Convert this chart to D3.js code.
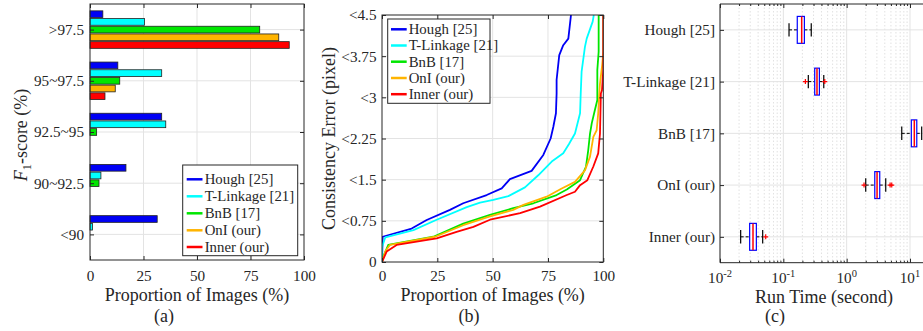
<!DOCTYPE html>
<html><head><meta charset="utf-8">
<script src="https://cdn.jsdelivr.net/npm/d3@7"></script>
<style>
body{margin:0;background:#fff}
text{font-family:"Liberation Serif","Times New Roman",serif;fill:#262626}
</style>
</head><body>
<svg id="chart" width="923" height="331"></svg>
<script>
// ---------------- DATA ----------------
const seriesNames = ["Hough [25]", "T-Linkage [21]", "BnB [17]", "OnI (our)", "Inner (our)"];
const seriesColors = ["#0000f5", "#00ffff", "#00e600", "#ffb400", "#ff0000"];

// (a) F1-score distribution
const f1Categories = [">97.5", "95~97.5", "92.5~95", "90~92.5", "<90"];
const f1Hough    = [6.0, 13.0, 33.5, 16.8, 31.4];
const f1TLinkage = [25.5, 33.5, 35.4, 5.1, 1.2];
const f1BnB      = [79.3, 13.9, 3.1, 4.2, 0];
const f1OnI      = [88.2, 11.8, 0, 0, 0];
const f1Inner    = [93.1, 7.0, 0, 0, 0];
const proportionTicks = [0, 25, 50, 75, 100];

// (b) consistency error curves (proportion of images vs error)
const errorTicks = [0, 0.75, 1.5, 2.25, 3, 3.75, 4.5];
const errorTickLabels = ["0", "<0.75", "<1.5", "<2.25", "<3", "<3.75", "<4.5"];
const houghProp = [0, 0.3, 13.4, 20.2, 30.7, 36.7, 47.3, 54.1, 57.8, 67.6, 72.9, 76.2, 77.4, 78.6, 78.9, 78.9, 80.1, 81.9, 84.2, 85.4];
const houghErr  = [0, 0.46, 0.61, 0.765, 0.95, 1.07, 1.22, 1.34, 1.51, 1.66, 1.95, 2.25, 2.46, 2.71, 3.07, 3.32, 3.77, 3.95, 4.07, 4.5];
const tlinkProp = [0, 0, 1.5, 14.2, 24.7, 38.3, 44.3, 50.3, 57.1, 64.6, 70.6, 76.7, 81.9, 84.5, 87.2, 89.5, 89.8, 90.2, 91.7, 92.5, 95.2, 95.7];
const tlinkErr  = [0, 0.27, 0.45, 0.58, 0.77, 1.0, 1.08, 1.13, 1.2, 1.36, 1.58, 1.83, 1.98, 2.15, 2.34, 2.71, 3.07, 3.47, 3.92, 4.07, 4.38, 4.5];
const bnbProp = [0, 0.6, 2.8, 23.2, 36.7, 48.8, 59.3, 68.4, 78.9, 83.5, 89.5, 92.2, 93.2, 94.0, 94.8, 96.2, 97.3, 97.3, 97.3, 97.9, 97.9];
const bnbErr  = [0, 0.1, 0.31, 0.46, 0.70, 0.86, 0.98, 1.07, 1.22, 1.32, 1.49, 1.74, 2.04, 2.34, 2.53, 2.77, 2.95, 3.25, 3.5, 3.83, 4.5];
const oniProp = [0, 1.6, 3.6, 24.0, 36.7, 48.8, 59.3, 63.9, 74.4, 81.2, 87.2, 91.7, 94.0, 95.5, 97.0, 97.7, 98.2, 98.5, 99.5, 100, 100];
const oniErr  = [0, 0.2, 0.31, 0.46, 0.67, 0.83, 0.95, 1.04, 1.19, 1.34, 1.46, 1.67, 1.92, 2.28, 2.40, 2.71, 3.07, 3.25, 3.59, 3.83, 4.5];
const innerProp = [0, 2.1, 6.6, 24.7, 33.7, 41.3, 48.8, 62.4, 71.4, 83.5, 87.2, 89.5, 92.8, 95.5, 97.7, 98.5, 98.9, 99.4, 100, 100];
const innerErr  = [0, 0.19, 0.31, 0.43, 0.55, 0.64, 0.77, 0.89, 1.01, 1.22, 1.28, 1.40, 1.49, 1.74, 1.98, 2.34, 3.07, 3.13, 3.5, 4.5];

// (c) run time box plots (seconds)
const rtWhiskerLo = [0.123, 0.248, 7.41, 2.0, 0.0212];
const rtQ1        = [0.166, 0.313, 10.5, 2.78, 0.0294];
const rtMedian    = [0.195, 0.340, 11.7, 3.02, 0.0332];
const rtQ3        = [0.215, 0.371, 12.8, 3.33, 0.0375];
const rtWhiskerHi = [0.276, 0.435, 15.3, 4.14, 0.0472];
const rtOutliers  = [[], [0.223, 0.451], [], [1.88, 4.85, 5.15], [0.0527]];
const rtTicks = [0.01, 0.1, 1, 10, 100];
const rtTickExp = ["-2", "-1", "0", "1", "2"];

// ---------------- DRAW ----------------
const W = 923;
const svg = d3.select("#chart");
svg.append("rect").attr("width", 923).attr("height", 331).attr("fill", "#fff");
const AX = "#262626", GRID = "#e3e3e3";
const TICK_FS = 15.2, TITLE_FS = 18, LEG_FS = 14.8;

function box(g, x0, x1, y0, y1) {
  g.append("rect").attr("x", x0).attr("y", y0).attr("width", x1 - x0).attr("height", y1 - y0)
    .attr("fill", "none").attr("stroke", AX).attr("stroke-width", 1);
}
function styleAxis(sel) {
  sel.select(".domain").remove();
  sel.selectAll(".tick line").attr("stroke", AX);
  sel.selectAll("text").attr("font-size", TICK_FS).attr("fill", AX)
    .attr("font-family", "Liberation Serif, serif");
}
function legend(g, x0, y0, w, h, rowYs, lineX0, lineX1, textX) {
  g.append("rect").attr("x", x0).attr("y", y0).attr("width", w).attr("height", h)
    .attr("fill", "#fff").attr("stroke", AX).attr("stroke-width", 1);
  seriesNames.forEach((n, i) => {
    g.append("line").attr("x1", lineX0).attr("x2", lineX1).attr("y1", rowYs[i]).attr("y2", rowYs[i])
      .attr("stroke", seriesColors[i]).attr("stroke-width", 2.5);
    g.append("text").attr("x", textX).attr("y", rowYs[i]).attr("dy", "0.33em")
      .attr("font-size", LEG_FS).text(n);
  });
}

// ===== Panel (a) =====
{
  const L = 90, R = 304, T = 4, B = 260;
  const g = svg.append("g");
  const x = d3.scaleLinear().domain([0, 100]).range([L, R]);
  const y0 = d3.scaleBand().domain(f1Categories).range([T, B]).padding(0);
  const y1 = d3.scaleBand().domain(seriesNames).range([0, y0.bandwidth()]).paddingInner(0.13).paddingOuter(0.89);
  const vals = [f1Hough, f1TLinkage, f1BnB, f1OnI, f1Inner];

  g.selectAll(".gx").data(proportionTicks.slice(1, -1)).join("line")
    .attr("x1", d => x(d)).attr("x2", d => x(d)).attr("y1", T).attr("y2", B).attr("stroke", GRID);
  g.selectAll(".gy").data(f1Categories).join("line")
    .attr("x1", L).attr("x2", R).attr("y1", d => y0(d) + y0.bandwidth() / 2).attr("y2", d => y0(d) + y0.bandwidth() / 2).attr("stroke", GRID);

  f1Categories.forEach((c, ci) => {
    seriesNames.forEach((s, si) => {
      g.append("rect").attr("x", x(0)).attr("y", y0(c) + y1(s))
        .attr("width", x(vals[si][ci]) - x(0)).attr("height", y1.bandwidth())
        .attr("fill", seriesColors[si]).attr("stroke", "#222").attr("stroke-width", 0.8);
    });
  });

  box(g, L, R, T, B);
  const yc = d3.scalePoint().domain(f1Categories).range([y0(f1Categories[0]) + y0.bandwidth() / 2, y0(f1Categories[4]) + y0.bandwidth() / 2]);
  g.append("g").attr("transform", `translate(0,${B})`)
    .call(d3.axisBottom(x).tickValues(proportionTicks).tickSizeInner(-4).tickSizeOuter(0).tickPadding(10.5)).call(styleAxis);
  g.append("g").attr("transform", `translate(0,${T})`)
    .call(d3.axisTop(x).tickValues(proportionTicks).tickFormat("").tickSizeInner(-4).tickSizeOuter(0)).call(styleAxis);
  g.append("g").attr("transform", `translate(${L},0)`)
    .call(d3.axisLeft(yc).tickSizeInner(-4).tickSizeOuter(0).tickPadding(6)).call(styleAxis);
  g.append("g").attr("transform", `translate(${R},0)`)
    .call(d3.axisRight(yc).tickFormat("").tickSizeInner(-4).tickSizeOuter(0)).call(styleAxis);

  legend(g, 182.7, 165, 115, 90.7, [179.3, 196.3, 213.3, 230.3, 247], 186.7, 202.5, 204.7);

  g.append("text").attr("x", (L + R) / 2).attr("y", 300.5).attr("text-anchor", "middle").attr("font-size", TITLE_FS)
    .text("Proportion of Images (%)");
  const yl = g.append("text").attr("transform", `translate(26.5,${(T + B) / 2 + 3}) rotate(-90)`)
    .attr("text-anchor", "middle").attr("font-size", TITLE_FS);
  yl.append("tspan").attr("font-style", "italic").text("F");
  yl.append("tspan").attr("font-size", 12.5).attr("dy", 4).text("1");
  yl.append("tspan").attr("dy", -4).text("-score (%)");
  g.append("text").attr("x", 164).attr("y", 321.5).attr("text-anchor", "middle").attr("font-size", TITLE_FS).text("(a)");
}

// ===== Panel (b) =====
{
  const L = 382, R = 603.3, T = 15, B = 262;
  const g = svg.append("g");
  const x = d3.scaleLinear().domain([0, 100]).range([L, R]);
  const y = d3.scaleLinear().domain([0, 4.5]).range([B, T]);

  g.selectAll(".gx").data(proportionTicks.slice(1, -1)).join("line")
    .attr("x1", d => x(d)).attr("x2", d => x(d)).attr("y1", T).attr("y2", B).attr("stroke", GRID);
  g.selectAll(".gy").data(errorTicks.slice(1, -1)).join("line")
    .attr("x1", L).attr("x2", R).attr("y1", d => y(d)).attr("y2", d => y(d)).attr("stroke", GRID);

  svg.append("clipPath").attr("id", "clipb").append("rect").attr("x", L).attr("y", T).attr("width", R - L).attr("height", B - T);
  const curves = [[houghProp, houghErr], [tlinkProp, tlinkErr], [bnbProp, bnbErr], [oniProp, oniErr], [innerProp, innerErr]];
  const line = d3.line().x(d => x(d[0])).y(d => y(d[1]));
  const cg = g.append("g").attr("clip-path", "url(#clipb)");
  curves.forEach((c, i) => {
    const pts = c[0].map((p, k) => [p, c[1][k]]);
    cg.append("path").attr("d", line(pts)).attr("fill", "none")
      .attr("stroke", seriesColors[i]).attr("stroke-width", 1.8).attr("stroke-linejoin", "round");
  });

  box(g, L, R, T, B);
  g.append("g").attr("transform", `translate(0,${B})`)
    .call(d3.axisBottom(x).tickValues(proportionTicks).tickSizeInner(-4).tickSizeOuter(0).tickPadding(8.5)).call(styleAxis);
  g.append("g").attr("transform", `translate(0,${T})`)
    .call(d3.axisTop(x).tickValues(proportionTicks).tickFormat("").tickSizeInner(-4).tickSizeOuter(0)).call(styleAxis);
  g.append("g").attr("transform", `translate(${L},0)`)
    .call(d3.axisLeft(y).tickValues(errorTicks).tickFormat((d, i) => errorTickLabels[i]).tickSizeInner(-4).tickSizeOuter(0).tickPadding(5.5)).call(styleAxis);
  g.append("g").attr("transform", `translate(${R},0)`)
    .call(d3.axisRight(y).tickValues(errorTicks).tickFormat("").tickSizeInner(-4).tickSizeOuter(0)).call(styleAxis);

  legend(g, 387.7, 19, 102.3, 84.3, [29.3, 45.5, 61.7, 78, 94.2], 391, 406.7, 408.7);

  g.append("text").attr("x", (L + R) / 2).attr("y", 300.5).attr("text-anchor", "middle").attr("font-size", TITLE_FS)
    .text("Proportion of Images (%)");
  g.append("text").attr("transform", `translate(335,${(T + B) / 2}) rotate(-90)`)
    .attr("text-anchor", "middle").attr("font-size", TITLE_FS).text("Consistency Error (pixel)");
  g.append("text").attr("x", 469).attr("y", 321.5).attr("text-anchor", "middle").attr("font-size", TITLE_FS).text("(b)");
}

// ===== Panel (c) =====
{
  const L = 720, T = 4, B = 262.7;
  const g = svg.append("g");
  const x = d3.scaleLog().domain([0.01, 100]).range([L, L + 4 * 63.33]);
  const R = x(100);
  const yb = d3.scaleBand().domain(seriesNames).range([T, B]).padding(0);
  const yc = d => yb(d) + yb.bandwidth() / 2;
  const bh = yb.bandwidth() * 0.52;

  const minor = x.ticks().filter(v => !rtTicks.includes(v));
  g.selectAll(".gm").data(minor).join("line")
    .attr("x1", d => x(d)).attr("x2", d => x(d)).attr("y1", T).attr("y2", B)
    .attr("stroke", "#d9d9d9").attr("stroke-dasharray", "1.5,2").attr("stroke-width", 0.8);
  g.selectAll(".gM").data(rtTicks).join("line")
    .attr("x1", d => x(d)).attr("x2", d => x(d)).attr("y1", T).attr("y2", B).attr("stroke", GRID);
  g.selectAll(".gy").data(seriesNames).join("line")
    .attr("x1", L).attr("x2", R).attr("y1", d => yc(d)).attr("y2", d => yc(d)).attr("stroke", GRID);

  seriesNames.forEach((s, i) => {
    const cy = yc(s);
    g.append("line").attr("x1", x(rtWhiskerLo[i])).attr("x2", x(rtQ1[i])).attr("y1", cy).attr("y2", cy)
      .attr("stroke", "#000").attr("stroke-dasharray", "3,2").attr("stroke-width", 1);
    g.append("line").attr("x1", x(rtQ3[i])).attr("x2", x(rtWhiskerHi[i])).attr("y1", cy).attr("y2", cy)
      .attr("stroke", "#000").attr("stroke-dasharray", "3,2").attr("stroke-width", 1);
    [rtWhiskerLo[i], rtWhiskerHi[i]].forEach(v => {
      g.append("line").attr("x1", x(v)).attr("x2", x(v)).attr("y1", cy - bh / 4).attr("y2", cy + bh / 4)
        .attr("stroke", "#000").attr("stroke-width", 1.2);
    });
    g.append("rect").attr("x", x(rtQ1[i])).attr("y", cy - bh / 2).attr("width", x(rtQ3[i]) - x(rtQ1[i])).attr("height", bh)
      .attr("fill", "#fff").attr("stroke", "#0000ff").attr("stroke-width", 1.2);
    g.append("line").attr("x1", x(rtMedian[i])).attr("x2", x(rtMedian[i])).attr("y1", cy - bh / 2).attr("y2", cy + bh / 2)
      .attr("stroke", "#ff0000").attr("stroke-width", 1.5);
    rtOutliers[i].forEach(v => {
      g.append("path").attr("d", `M${x(v) - 2.5},${cy}h5M${x(v)},${cy - 2.5}v5`)
        .attr("stroke", "#ff0000").attr("stroke-width", 1.2);
    });
  });

  g.append("line").attr("x1", L).attr("x2", R).attr("y1", T).attr("y2", T).attr("stroke", AX);
  g.append("line").attr("x1", L).attr("x2", R).attr("y1", B).attr("y2", B).attr("stroke", AX);
  g.append("line").attr("x1", L).attr("x2", L).attr("y1", T).attr("y2", B).attr("stroke", AX);

  g.append("g").attr("transform", `translate(0,${B})`)
    .call(d3.axisBottom(x).tickValues(rtTicks).tickFormat("").tickSizeInner(-4).tickSizeOuter(0)).call(styleAxis);
  g.append("g").attr("transform", `translate(0,${B})`)
    .call(d3.axisBottom(x).tickValues(minor).tickFormat("").tickSizeInner(-2).tickSizeOuter(0)).call(styleAxis);
  g.append("g").attr("transform", `translate(0,${T})`)
    .call(d3.axisTop(x).tickValues(rtTicks).tickFormat("").tickSizeInner(-4).tickSizeOuter(0)).call(styleAxis);
  g.append("g").attr("transform", `translate(0,${T})`)
    .call(d3.axisTop(x).tickValues(minor).tickFormat("").tickSizeInner(-2).tickSizeOuter(0)).call(styleAxis);
  g.append("g").attr("transform", `translate(${L},0)`)
    .call(d3.axisLeft(d3.scalePoint().domain(seriesNames).range([yc(seriesNames[0]), yc(seriesNames[4])]))
      .tickSizeInner(-4).tickSizeOuter(0).tickPadding(5)).call(styleAxis);

  rtTicks.forEach((v, i) => {
    if (x(v) > W) return; // beyond visible area
    const t = g.append("text").attr("x", x(v)).attr("y", 283).attr("text-anchor", "middle").attr("font-size", TICK_FS);
    t.append("tspan").text("10");
    t.append("tspan").attr("font-size", 10.5).attr("dy", -6).text(rtTickExp[i]);
  });

  g.append("text").attr("x", 824).attr("y", 302.5).attr("text-anchor", "middle").attr("font-size", TITLE_FS)
    .text("Run Time (second)");
  g.append("text").attr("x", 775).attr("y", 321.5).attr("text-anchor", "middle").attr("font-size", TITLE_FS).text("(c)");
}
</script>
</body></html>
